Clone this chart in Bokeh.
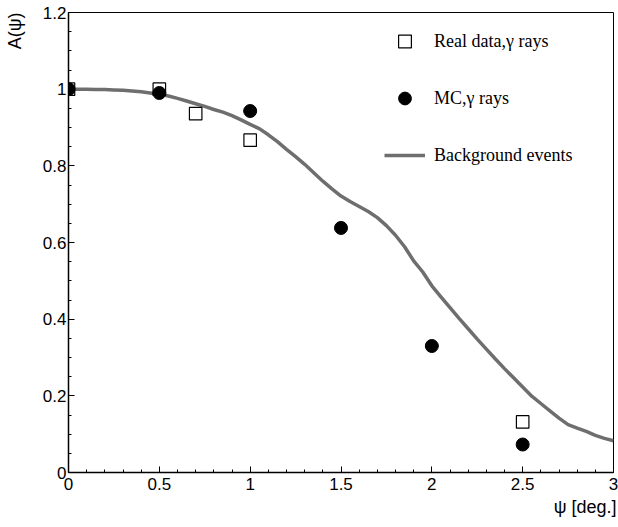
from bokeh.plotting import figure
from bokeh.models import (Range1d, FixedTicker, CustomJSTickFormatter,
                          Legend, LegendItem, Title)
from bokeh.embed import file_html
from bokeh.resources import INLINE

# Real data, gamma rays (open squares)
real_psi = [0.0, 0.5, 0.7, 1.0, 2.5]
real_a = [1.0, 1.0, 0.936, 0.867, 0.132]

# Monte Carlo, gamma rays (filled circles)
mc_psi = [0.0, 0.5, 1.0, 1.5, 2.0, 2.5]
mc_a = [1.0, 0.99, 0.943, 0.638, 0.330, 0.073]

# Background events acceptance curve, sampled every 0.05 deg
bg_psi = [0.0, 0.05, 0.1, 0.15, 0.2, 0.25, 0.3, 0.35, 0.4, 0.45,
          0.5, 0.55, 0.6, 0.65, 0.7, 0.75, 0.8, 0.85, 0.9, 0.95,
          1.0, 1.05, 1.1, 1.15, 1.2, 1.25, 1.3, 1.35, 1.4, 1.45,
          1.5, 1.55, 1.6, 1.65, 1.7, 1.75, 1.8, 1.85, 1.9, 1.95,
          2.0, 2.05, 2.1, 2.15, 2.2, 2.25, 2.3, 2.35, 2.4, 2.45,
          2.5, 2.55, 2.6, 2.65, 2.7, 2.75, 2.8, 2.85, 2.9, 2.95, 3.0]
bg_a = [1.000, 1.000, 1.000, 0.999, 0.999, 0.998, 0.997, 0.995, 0.993, 0.990,
        0.987, 0.982, 0.976, 0.969, 0.962, 0.955, 0.947, 0.940, 0.931, 0.920,
        0.908, 0.897, 0.881, 0.863, 0.843, 0.824, 0.804, 0.782, 0.760, 0.740,
        0.721, 0.707, 0.694, 0.681, 0.665, 0.644, 0.619, 0.589, 0.552, 0.523,
        0.487, 0.458, 0.430, 0.402, 0.375, 0.348, 0.322, 0.296, 0.271, 0.247,
        0.223, 0.199, 0.180, 0.161, 0.142, 0.125, 0.116, 0.107, 0.097, 0.089,
        0.083]

# Axis ticks
x_ticks = [0, 0.5, 1, 1.5, 2, 2.5, 3]
x_minor = [round(0.1 * i, 1) for i in range(31)]
y_ticks = [0, 0.2, 0.4, 0.6, 0.8, 1.0, 1.2]
y_minor = [round(0.05 * i, 2) for i in range(25)]

SANS = "Liberation Sans"
SERIF = "Liberation Serif"

p = figure(width=618, height=527, output_backend="svg", toolbar_location=None,
           x_range=Range1d(0, 3), y_range=Range1d(0, 1.2),
           min_border_left=68, min_border_right=5, min_border_top=12,
           min_border_bottom=55)
p.grid.visible = False
p.outline_line_color = "black"
p.outline_line_width = 1
p.background_fill_color = "white"
p.border_fill_color = "white"

fmt = CustomJSTickFormatter(code="return Number(tick.toFixed(2)).toString();")

xa = p.xaxis[0]
xa.ticker = FixedTicker(ticks=x_ticks, minor_ticks=x_minor)
xa.major_label_standoff = 5
ya = p.yaxis[0]
ya.ticker = FixedTicker(ticks=y_ticks, minor_ticks=y_minor)
ya.major_label_standoff = 2
# blank spacer label keeps the vertical title clear of the tick labels
ya.axis_label = "\u00a0"
ya.axis_label_text_font_size = "11px"
ya.axis_label_standoff = 0

for ax in (xa, ya):
    ax.formatter = fmt
    ax.axis_line_color = "black"
    ax.axis_line_width = 1.5
    ax.major_tick_in = 6
    ax.major_tick_out = 0
    ax.minor_tick_in = 3
    ax.minor_tick_out = 0
    ax.major_tick_line_color = "black"
    ax.minor_tick_line_color = "black"
    ax.major_label_text_font = SANS
    ax.major_label_text_font_size = "17px"
    ax.major_label_text_color = "black"

bg = p.line(bg_psi, bg_a, line_color="#6e6e6e", line_width=3.5)
sq = p.scatter(real_psi, real_a, marker="square", size=12.5,
               fill_color=None, line_color="black", line_width=1.2)
mc = p.scatter(mc_psi, mc_a, marker="circle", size=13,
               fill_color="black", line_color="black")

legend = Legend(items=[LegendItem(label="Real data,\u03b3 rays", renderers=[sq]),
                       LegendItem(label="MC,\u03b3 rays", renderers=[mc]),
                       LegendItem(label="Background events", renderers=[bg])],
                location=(316, 301), padding=0, margin=0, spacing=25,
                glyph_width=41, glyph_height=32, label_height=32,
                label_standoff=9, label_text_font=SERIF,
                label_text_font_size="18px", label_text_color="black",
                border_line_color=None, background_fill_alpha=0)
p.add_layout(legend)

p.add_layout(Title(text="\u03c8 [deg.]", align="right", text_font=SANS,
                   text_font_size="18px", text_font_style="normal",
                   text_color="black", standoff=4, offset=-3), "below")
p.add_layout(Title(text="A(\u03c8)", align="right", text_font=SANS,
                   text_font_size="18px", text_font_style="normal",
                   text_color="black", standoff=0), "left")

open("out.html", "w").write(file_html(p, INLINE))
